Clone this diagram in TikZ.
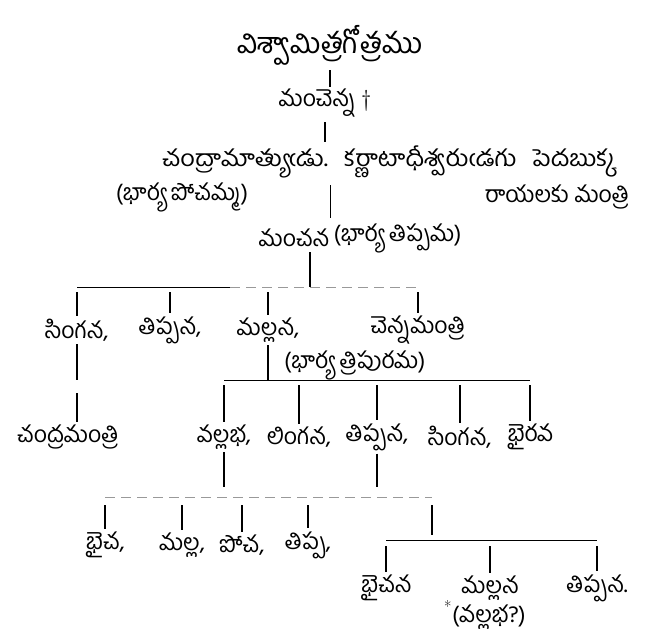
\documentclass[tikz,border=0pt]{standalone}
\usepackage{fontspec}
\newfontfamily\telugu[Script=Telugu]{Hind Guntur}
\usetikzlibrary{positioning}

\begin{document}
\begin{tikzpicture}[
            x=1pt, y=-1pt,
            person/.style={font=\telugu\fontsize{23}{26}\selectfont, inner sep=1pt},
            heading/.style={font=\telugu\fontsize{29}{33}\selectfont, inner sep=1pt},
            stem/.style={line width=1.3pt},
            bar/.style={line width=0.9pt},
            faded/.style={line width=0.8pt, draw=black!40, dash pattern=on 10pt off 6pt}
        ]
            \useasboundingbox (0,0) rectangle (653,639);

            % top of the line
            \node[heading] (gotra) at (330,45) {విశ్వామిత్రగోత్రము};
            \node[person] (manc1) at (325,103) {మంచెన్న {\rmfamily\textdagger}};
            \node[person] (chandra) at (389,162) {\addfontfeature{FakeStretch=1.1}చంద్రామాత్యుఁడు.\hspace{0.7em}కర్ణాటాధీశ్వరుఁడగు\hspace{0.7em}పెదబుక్క};
            \node[person] (wife1) at (182,197) {(భార్య పోచమ్మ)};
            \node[person] (raya) at (557,197) {రాయలకు మంత్రి};
            \node[person] (manc2) at (294,238) {మంచన};
            \node[person, right=2pt of manc2] (wife2) {(భార్య తిప్పమ)};

            \draw[stem, shorten <=4pt, shorten >=1pt] (gotra) -- (gotra |- manc1.north);
            \draw[stem, shorten <=4pt, shorten >=3pt] (manc1) -- (manc1 |- chandra.north);
            \draw[stem, shorten <=6pt, shorten >=10pt] (chandra.south -| manc2.north east) -- (manc2.north east);

            % sons of mancana
            \coordinate (bus1) at (310,287);
            \coordinate (bus1mid) at (230,287);
            \node[person] (singa1) at (77,330) {సింగన,};
            \node[person] (tippa1) at (170,330) {తిప్పన,};
            \node[person] (malla1) at (268,330) {మల్లన,};
            \node[person] (chenna) at (418,330) {చెన్నమంత్రి};

            \draw[stem, shorten <=4pt] (manc2.south -| bus1) -- (bus1);
            \draw[bar] (singa1.north |- bus1) -- (bus1mid);
            \draw[faded] (bus1mid) -- (chenna.north |- bus1);
            \draw[stem, shorten <=5pt, shorten >=2pt] (singa1.north |- bus1) -- (singa1.north);
            \draw[stem, shorten <=5pt, shorten >=2pt] (tippa1.north |- bus1) -- (tippa1.north);
            \draw[stem, shorten <=5pt, shorten >=2pt] (malla1.north |- bus1) -- (malla1.north);
            \draw[stem, shorten <=5pt, shorten >=2pt] (chenna.north |- bus1) -- (chenna.north);

            % third line
            \coordinate (bus2) at (272,380);
            \node[person, anchor=west] (wife3) at (283,365) {(భార్య త్రిపురమ)};
            \node[person] (cmantri) at (68,437) {చంద్రమంత్రి};
            \node[person] (vall) at (224,437) {వల్లభ,};
            \node[person] (linga) at (299,437) {లింగన,};
            \node[person] (tippa2) at (377,437) {తిప్పన,};
            \node[person] (singa2) at (460,437) {సింగన,};
            \node[person] (bhai) at (530,437) {భైరవ};

            \draw[stem, shorten <=2pt] (singa1.south) -- (singa1.south |- bus2);
            \draw[stem, shorten >=2pt] (singa1.south |- bus2) ++(0,13) -- (singa1.south |- cmantri.north);
            \draw[stem, shorten <=2pt] (malla1.south) -- (malla1.south |- bus2);
            \draw[bar] (vall.north |- bus2) -- (bhai.north |- bus2);
            \draw[stem, shorten <=5pt, shorten >=2pt] (vall.north |- bus2) -- (vall.north);
            \draw[stem, shorten <=5pt, shorten >=2pt] (linga.north |- bus2) -- (linga.north);
            \draw[stem, shorten <=5pt, shorten >=2pt] (tippa2.north |- bus2) -- (tippa2.north);
            \draw[stem, shorten <=5pt, shorten >=2pt] (singa2.north |- bus2) -- (singa2.north);
            \draw[stem, shorten <=5pt, shorten >=2pt] (bhai.north |- bus2) -- (bhai.north);

            % fourth line
            \coordinate (bus3) at (222,497);
            \coordinate (bus4) at (432,540);
            \node[person] (bhaic) at (105,545) {భైచ,};
            \node[person] (malla2) at (182,545) {మల్ల,};
            \node[person] (poca) at (242,545) {పోచ,};
            \node[person] (tippa3) at (308,545) {తిప్ప,};
            \node[person] (bhaicana) at (386,588) {భైచన};
            \node[person] (malla3) at (490,588) {మల్లన};
            \node[person] (tippa4) at (597,588) {తిప్పన.};
            \node[person, anchor=base] (note) at (485,622) {{\rmfamily\textsuperscript{*}}(వల్లభ?)};

            \draw[stem, shorten <=2pt, shorten >=10pt] (vall.south) -- (vall.south |- bus3);
            \draw[stem, shorten <=2pt, shorten >=10pt] (tippa2.south) -- (tippa2.south |- bus3);
            \draw[faded] (bhaic.north |- bus3) -- (bus4 |- bus3);
            \draw[stem, shorten <=8pt, shorten >=5pt] (bus4 |- bus3) -- (bus4);
            \draw[stem, shorten <=8pt, shorten >=2pt] (bhaic.north |- bus3) -- (bhaic.north);
            \draw[stem, shorten <=8pt, shorten >=2pt] (malla2.north |- bus3) -- (malla2.north);
            \draw[stem, shorten <=8pt, shorten >=2pt] (poca.north |- bus3) -- (poca.north);
            \draw[stem, shorten <=8pt, shorten >=2pt] (tippa3.north |- bus3) -- (tippa3.north);
            \draw[bar] (bhaicana.north |- bus4) -- (tippa4.north |- bus4);
            \draw[stem, shorten <=6pt, shorten >=2pt] (bhaicana.north |- bus4) -- (bhaicana.north);
            \draw[stem, shorten <=6pt, shorten >=2pt] (malla3.north |- bus4) -- (malla3.north);
            \draw[stem, shorten <=6pt, shorten >=2pt] (tippa4.north |- bus4) -- (tippa4.north);
        \end{tikzpicture}
\end{document}
